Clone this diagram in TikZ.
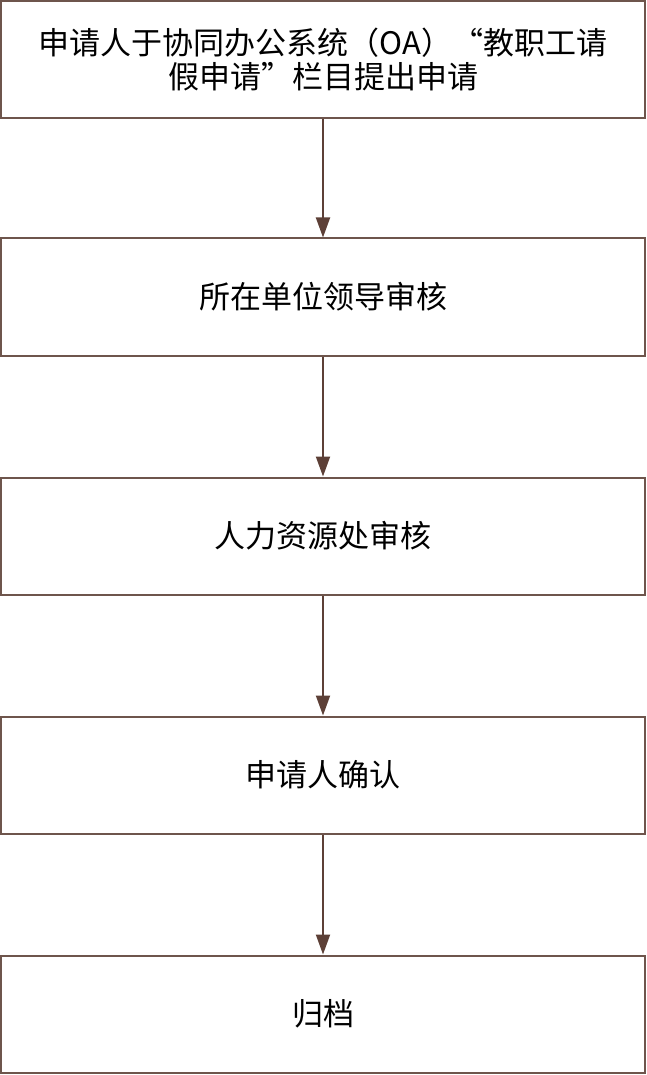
\documentclass[tikz,border=0pt]{standalone}
\usepackage{fontspec}
\setmainfont{Noto Sans CJK SC}
\usetikzlibrary{arrows.meta}
\definecolor{boxline}{HTML}{6E554C}
\definecolor{arrowc}{HTML}{5D4037}
\begin{document}
\begin{tikzpicture}[x=1pt,y=-1pt,
  stepbox/.style={draw=boxline,line width=2pt,fill=white,minimum width=644pt,minimum height=117pt,
    align=center,inner sep=0pt,font=\fontsize{31pt}{34pt}\selectfont,text=black},
  flow/.style={draw=arrowc,line width=2pt,-{Triangle[width=14pt,length=20pt]}}]
\useasboundingbox (0,0) rectangle (647,1075);
\node[stepbox] (a) at (323,59.5) {申请人于协同办公系统（OA）“教职工请\\假申请”栏目提出申请};
\node[stepbox] (b) at (323,297) {所在单位领导审核};
\node[stepbox] (c) at (323,536) {人力资源处审核};
\node[stepbox] (d) at (323,775) {申请人确认};
\node[stepbox] (e) at (323,1014) {归档};
\draw[flow] (a) -- (b);
\draw[flow] (b) -- (c);
\draw[flow] (c) -- (d);
\draw[flow] (d) -- (e);
\end{tikzpicture}
\end{document}
